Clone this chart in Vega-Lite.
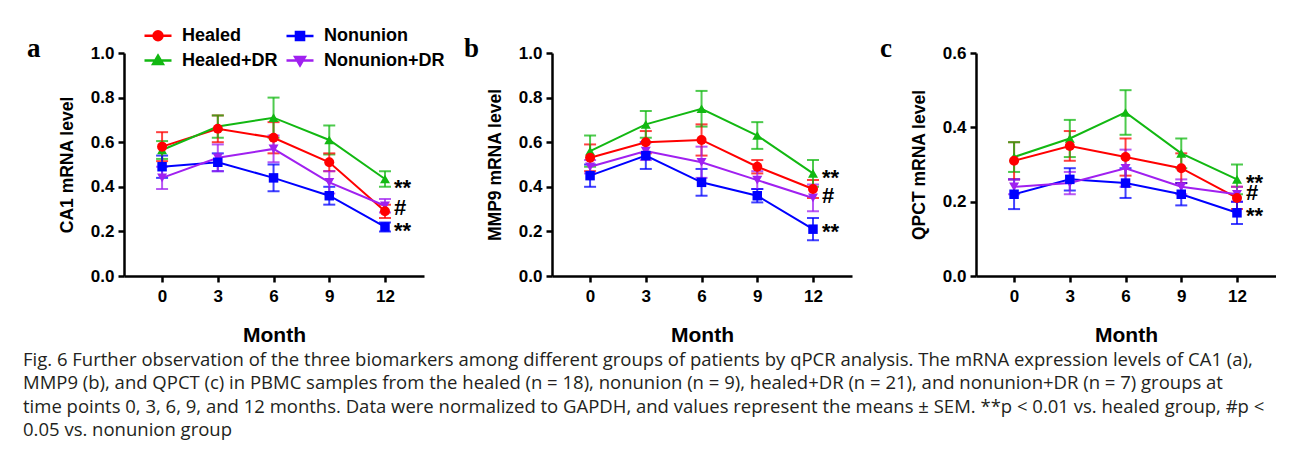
{
  "$schema": "https://vega.github.io/schema/vega-lite/v6.json",
  "background": "white",
  "padding": {"left": 23, "top": 20, "right": 0, "bottom": 0},
  "datasets": {
    "expr": [
      {"gene": "CA1", "group": "Healed", "month": 0, "mean": 0.58, "sem": 0.065},
      {"gene": "CA1", "group": "Healed", "month": 3, "mean": 0.66, "sem": 0.06},
      {"gene": "CA1", "group": "Healed", "month": 6, "mean": 0.62, "sem": 0.07},
      {"gene": "CA1", "group": "Healed", "month": 9, "mean": 0.51, "sem": 0.04},
      {"gene": "CA1", "group": "Healed", "month": 12, "mean": 0.29, "sem": 0.03},
      {"gene": "CA1", "group": "Healed+DR", "month": 0, "mean": 0.565, "sem": 0.04},
      {"gene": "CA1", "group": "Healed+DR", "month": 3, "mean": 0.67, "sem": 0.05},
      {"gene": "CA1", "group": "Healed+DR", "month": 6, "mean": 0.71, "sem": 0.09},
      {"gene": "CA1", "group": "Healed+DR", "month": 9, "mean": 0.61, "sem": 0.065},
      {"gene": "CA1", "group": "Healed+DR", "month": 12, "mean": 0.435, "sem": 0.035},
      {"gene": "CA1", "group": "Nonunion", "month": 0, "mean": 0.49, "sem": 0.05},
      {"gene": "CA1", "group": "Nonunion", "month": 3, "mean": 0.51, "sem": 0.04},
      {"gene": "CA1", "group": "Nonunion", "month": 6, "mean": 0.44, "sem": 0.06},
      {"gene": "CA1", "group": "Nonunion", "month": 9, "mean": 0.36, "sem": 0.04},
      {"gene": "CA1", "group": "Nonunion", "month": 12, "mean": 0.22, "sem": 0.02},
      {"gene": "CA1", "group": "Nonunion+DR", "month": 0, "mean": 0.44, "sem": 0.05},
      {"gene": "CA1", "group": "Nonunion+DR", "month": 3, "mean": 0.53, "sem": 0.06},
      {"gene": "CA1", "group": "Nonunion+DR", "month": 6, "mean": 0.57, "sem": 0.06},
      {"gene": "CA1", "group": "Nonunion+DR", "month": 9, "mean": 0.42, "sem": 0.05},
      {"gene": "CA1", "group": "Nonunion+DR", "month": 12, "mean": 0.315, "sem": 0.03},
      {"gene": "MMP9", "group": "Healed", "month": 0, "mean": 0.53, "sem": 0.06},
      {"gene": "MMP9", "group": "Healed", "month": 3, "mean": 0.60, "sem": 0.05},
      {"gene": "MMP9", "group": "Healed", "month": 6, "mean": 0.61, "sem": 0.07},
      {"gene": "MMP9", "group": "Healed", "month": 9, "mean": 0.49, "sem": 0.03},
      {"gene": "MMP9", "group": "Healed", "month": 12, "mean": 0.39, "sem": 0.04},
      {"gene": "MMP9", "group": "Healed+DR", "month": 0, "mean": 0.56, "sem": 0.07},
      {"gene": "MMP9", "group": "Healed+DR", "month": 3, "mean": 0.68, "sem": 0.06},
      {"gene": "MMP9", "group": "Healed+DR", "month": 6, "mean": 0.75, "sem": 0.08},
      {"gene": "MMP9", "group": "Healed+DR", "month": 9, "mean": 0.63, "sem": 0.06},
      {"gene": "MMP9", "group": "Healed+DR", "month": 12, "mean": 0.46, "sem": 0.06},
      {"gene": "MMP9", "group": "Nonunion", "month": 0, "mean": 0.45, "sem": 0.05},
      {"gene": "MMP9", "group": "Nonunion", "month": 3, "mean": 0.54, "sem": 0.06},
      {"gene": "MMP9", "group": "Nonunion", "month": 6, "mean": 0.42, "sem": 0.06},
      {"gene": "MMP9", "group": "Nonunion", "month": 9, "mean": 0.36, "sem": 0.03},
      {"gene": "MMP9", "group": "Nonunion", "month": 12, "mean": 0.21, "sem": 0.05},
      {"gene": "MMP9", "group": "Nonunion+DR", "month": 0, "mean": 0.49, "sem": 0.03},
      {"gene": "MMP9", "group": "Nonunion+DR", "month": 3, "mean": 0.56, "sem": 0.04},
      {"gene": "MMP9", "group": "Nonunion+DR", "month": 6, "mean": 0.51, "sem": 0.07},
      {"gene": "MMP9", "group": "Nonunion+DR", "month": 9, "mean": 0.43, "sem": 0.04},
      {"gene": "MMP9", "group": "Nonunion+DR", "month": 12, "mean": 0.35, "sem": 0.06},
      {"gene": "QPCT", "group": "Healed", "month": 0, "mean": 0.31, "sem": 0.05},
      {"gene": "QPCT", "group": "Healed", "month": 3, "mean": 0.35, "sem": 0.04},
      {"gene": "QPCT", "group": "Healed", "month": 6, "mean": 0.32, "sem": 0.05},
      {"gene": "QPCT", "group": "Healed", "month": 9, "mean": 0.29, "sem": 0.04},
      {"gene": "QPCT", "group": "Healed", "month": 12, "mean": 0.21, "sem": 0.03},
      {"gene": "QPCT", "group": "Healed+DR", "month": 0, "mean": 0.32, "sem": 0.04},
      {"gene": "QPCT", "group": "Healed+DR", "month": 3, "mean": 0.37, "sem": 0.05},
      {"gene": "QPCT", "group": "Healed+DR", "month": 6, "mean": 0.44, "sem": 0.06},
      {"gene": "QPCT", "group": "Healed+DR", "month": 9, "mean": 0.33, "sem": 0.04},
      {"gene": "QPCT", "group": "Healed+DR", "month": 12, "mean": 0.26, "sem": 0.04},
      {"gene": "QPCT", "group": "Nonunion", "month": 0, "mean": 0.22, "sem": 0.04},
      {"gene": "QPCT", "group": "Nonunion", "month": 3, "mean": 0.26, "sem": 0.03},
      {"gene": "QPCT", "group": "Nonunion", "month": 6, "mean": 0.25, "sem": 0.04},
      {"gene": "QPCT", "group": "Nonunion", "month": 9, "mean": 0.22, "sem": 0.03},
      {"gene": "QPCT", "group": "Nonunion", "month": 12, "mean": 0.17, "sem": 0.03},
      {"gene": "QPCT", "group": "Nonunion+DR", "month": 0, "mean": 0.24, "sem": 0.02},
      {"gene": "QPCT", "group": "Nonunion+DR", "month": 3, "mean": 0.25, "sem": 0.03},
      {"gene": "QPCT", "group": "Nonunion+DR", "month": 6, "mean": 0.29, "sem": 0.05},
      {"gene": "QPCT", "group": "Nonunion+DR", "month": 9, "mean": 0.24, "sem": 0.02},
      {"gene": "QPCT", "group": "Nonunion+DR", "month": 12, "mean": 0.22, "sem": 0.02}
    ],
    "annot": [
      {"gene": "CA1", "month": 12, "mean": 0.41, "label": "**"},
      {"gene": "CA1", "month": 12, "mean": 0.307, "label": "#"},
      {"gene": "CA1", "month": 12, "mean": 0.215, "label": "**"},
      {"gene": "MMP9", "month": 12, "mean": 0.455, "label": "**"},
      {"gene": "MMP9", "month": 12, "mean": 0.357, "label": "#"},
      {"gene": "MMP9", "month": 12, "mean": 0.212, "label": "**"},
      {"gene": "QPCT", "month": 12, "mean": 0.259, "label": "**"},
      {"gene": "QPCT", "month": 12, "mean": 0.223, "label": "#"},
      {"gene": "QPCT", "month": 12, "mean": 0.169, "label": "**"}
    ]
  },
  "spacing": 40,
  "hconcat": [
    {
      "width": 300, "height": 223,
      "title": {"text": "a", "anchor": "start", "frame": "group", "dx": -97, "dy": 40, "offset": 0, "baseline": "alphabetic", "font": "Liberation Serif", "fontSize": 27, "fontWeight": "bold", "color": "black"},
      "data": {"name": "expr"},
      "transform": [{"filter": "datum.gene == 'CA1'"}],
      "encoding": {
        "x": {"field": "month", "type": "quantitative", "scale": {"domain": [-2.05, 14.1], "nice": false, "zero": false}, "axis": {"values": [0, 3, 6, 9, 12], "title": "Month"}},
        "y": {"field": "mean", "type": "quantitative", "scale": {"domain": [0, 1], "nice": false}, "axis": {"values": [0, 0.2, 0.4, 0.6, 0.8, 1.0], "format": ".1f", "title": "CA1 mRNA level"}}
      },
      "layer": [
        {"mark": {"type": "point", "filled": true, "opacity": 0},
          "encoding": {
            "color": {"field": "group", "type": "nominal",
              "scale": {"domain": ["Healed", "Healed+DR", "Nonunion", "Nonunion+DR"], "range": ["#FF0000", "#12B812", "#0000FF", "#A020F0"]},
              "legend": {"orient": "none", "legendX": 19, "legendY": -32.5, "columns": 2, "title": null, "symbolOpacity": 1}},
            "shape": {"field": "group", "type": "nominal",
              "scale": {"domain": ["Healed", "Healed+DR", "Nonunion", "Nonunion+DR"], "range": [
                "M-1,0H1M-0.33,0A0.33,0.33,0,1,0,0.33,0A0.33,0.33,0,1,0,-0.33,0Z",
                "M-1,0H1M0,-0.36L0.36,0.26H-0.36Z",
                "M-1,0H1M-0.3,-0.3H0.3V0.3H-0.3Z",
                "M-1,0H1M0,0.36L0.36,-0.26H-0.36Z"]},
              "legend": {"orient": "none", "legendX": 19, "legendY": -32.5, "columns": 2, "title": null, "symbolOpacity": 1}}
          }
        },
        {"mark": {"type": "errorbar", "ticks": true, "size": 12, "thickness": 2, "opacity": 0.75}, "encoding": {"yError": {"field": "sem"}, "color": {"field": "group", "type": "nominal", "legend": null}}},
        {"mark": {"type": "line", "strokeWidth": 2}, "encoding": {"color": {"field": "group", "type": "nominal", "legend": null}}},
        {"transform": [{"filter": "datum.group == 'Nonunion+DR'"}], "mark": {"type": "point", "shape": "triangle-down", "filled": true, "size": 100, "opacity": 1}, "encoding": {"color": {"field": "group", "type": "nominal", "legend": null}}},
        {"transform": [{"filter": "datum.group == 'Nonunion'"}], "mark": {"type": "point", "shape": "square", "filled": true, "size": 90, "opacity": 1}, "encoding": {"color": {"field": "group", "type": "nominal", "legend": null}}},
        {"transform": [{"filter": "datum.group == 'Healed+DR'"}], "mark": {"type": "point", "shape": "triangle-up", "filled": true, "size": 100, "opacity": 1}, "encoding": {"color": {"field": "group", "type": "nominal", "legend": null}}},
        {"transform": [{"filter": "datum.group == 'Healed'"}], "mark": {"type": "point", "shape": "circle", "filled": true, "size": 100, "opacity": 1}, "encoding": {"color": {"field": "group", "type": "nominal", "legend": null}}},
        {"data": {"name": "annot"}, "transform": [{"filter": "datum.gene == 'CA1' && datum.label == '#'"}], "mark": {"type": "text", "align": "left", "dx": 9, "baseline": "middle", "font": "Liberation Sans", "fontWeight": "bold", "fontSize": 22, "color": "black"}, "encoding": {"text": {"field": "label"}}},
        {"data": {"name": "annot"}, "transform": [{"filter": "datum.gene == 'CA1' && datum.label == '**'"}], "mark": {"type": "text", "align": "left", "dx": 9, "dy": 3, "baseline": "middle", "font": "Liberation Sans", "fontWeight": "bold", "fontSize": 22, "color": "black"}, "encoding": {"text": {"field": "label"}}}
      ]
    },
    {
      "spacing": 28,
      "hconcat": [
        {
          "width": 300, "height": 223,
          "title": {"text": "b", "anchor": "start", "frame": "group", "dx": -88, "dy": 40, "offset": 0, "baseline": "alphabetic", "font": "Liberation Serif", "fontSize": 27, "fontWeight": "bold", "color": "black"},
          "data": {"name": "expr"},
          "transform": [{"filter": "datum.gene == 'MMP9'"}],
          "encoding": {
            "x": {"field": "month", "type": "quantitative", "scale": {"domain": [-2.05, 14.1], "nice": false, "zero": false}, "axis": {"values": [0, 3, 6, 9, 12], "title": "Month"}},
            "y": {"field": "mean", "type": "quantitative", "scale": {"domain": [0, 1], "nice": false}, "axis": {"values": [0, 0.2, 0.4, 0.6, 0.8, 1.0], "format": ".1f", "title": "MMP9 mRNA level"}},
            "color": {"field": "group", "type": "nominal", "legend": null}
          },
          "layer": [
            {"mark": {"type": "errorbar", "ticks": true, "size": 12, "thickness": 2, "opacity": 0.75}, "encoding": {"yError": {"field": "sem"}}},
            {"mark": {"type": "line", "strokeWidth": 2}},
            {"transform": [{"filter": "datum.group == 'Nonunion+DR'"}], "mark": {"type": "point", "shape": "triangle-down", "filled": true, "size": 100, "opacity": 1}},
            {"transform": [{"filter": "datum.group == 'Nonunion'"}], "mark": {"type": "point", "shape": "square", "filled": true, "size": 90, "opacity": 1}},
            {"transform": [{"filter": "datum.group == 'Healed+DR'"}], "mark": {"type": "point", "shape": "triangle-up", "filled": true, "size": 100, "opacity": 1}},
            {"transform": [{"filter": "datum.group == 'Healed'"}], "mark": {"type": "point", "shape": "circle", "filled": true, "size": 100, "opacity": 1}},
            {"data": {"name": "annot"}, "transform": [{"filter": "datum.gene == 'MMP9' && datum.label == '#'"}], "mark": {"type": "text", "align": "left", "dx": 9, "baseline": "middle", "font": "Liberation Sans", "fontWeight": "bold", "fontSize": 22, "color": "black"}, "encoding": {"text": {"field": "label"}, "color": {"value": "black"}}},
            {"data": {"name": "annot"}, "transform": [{"filter": "datum.gene == 'MMP9' && datum.label == '**'"}], "mark": {"type": "text", "align": "left", "dx": 9, "dy": 3, "baseline": "middle", "font": "Liberation Sans", "fontWeight": "bold", "fontSize": 22, "color": "black"}, "encoding": {"text": {"field": "label"}, "color": {"value": "black"}}}
          ]
        },
        {
          "width": 300, "height": 223,
          "title": {"text": "c", "anchor": "start", "frame": "group", "dx": -96, "dy": 40, "offset": 0, "baseline": "alphabetic", "font": "Liberation Serif", "fontSize": 27, "fontWeight": "bold", "color": "black"},
          "data": {"name": "expr"},
          "transform": [{"filter": "datum.gene == 'QPCT'"}],
          "encoding": {
            "x": {"field": "month", "type": "quantitative", "scale": {"domain": [-2.05, 14.1], "nice": false, "zero": false}, "axis": {"values": [0, 3, 6, 9, 12], "title": "Month"}},
            "y": {"field": "mean", "type": "quantitative", "scale": {"domain": [0, 0.6], "nice": false}, "axis": {"values": [0, 0.2, 0.4, 0.6], "format": ".1f", "title": "QPCT mRNA level"}},
            "color": {"field": "group", "type": "nominal", "legend": null}
          },
          "layer": [
            {"mark": {"type": "errorbar", "ticks": true, "size": 12, "thickness": 2, "opacity": 0.75}, "encoding": {"yError": {"field": "sem"}}},
            {"mark": {"type": "line", "strokeWidth": 2}},
            {"transform": [{"filter": "datum.group == 'Nonunion+DR'"}], "mark": {"type": "point", "shape": "triangle-down", "filled": true, "size": 100, "opacity": 1}},
            {"transform": [{"filter": "datum.group == 'Nonunion'"}], "mark": {"type": "point", "shape": "square", "filled": true, "size": 90, "opacity": 1}},
            {"transform": [{"filter": "datum.group == 'Healed+DR'"}], "mark": {"type": "point", "shape": "triangle-up", "filled": true, "size": 100, "opacity": 1}},
            {"transform": [{"filter": "datum.group == 'Healed'"}], "mark": {"type": "point", "shape": "circle", "filled": true, "size": 100, "opacity": 1}},
            {"data": {"name": "annot"}, "transform": [{"filter": "datum.gene == 'QPCT' && datum.label == '#'"}], "mark": {"type": "text", "align": "left", "dx": 9, "baseline": "middle", "font": "Liberation Sans", "fontWeight": "bold", "fontSize": 22, "color": "black"}, "encoding": {"text": {"field": "label"}, "color": {"value": "black"}}},
            {"data": {"name": "annot"}, "transform": [{"filter": "datum.gene == 'QPCT' && datum.label == '**'"}], "mark": {"type": "text", "align": "left", "dx": 9, "dy": 3, "baseline": "middle", "font": "Liberation Sans", "fontWeight": "bold", "fontSize": 22, "color": "black"}, "encoding": {"text": {"field": "label"}, "color": {"value": "black"}}}
          ]
        }
      ]
    }
  ],
  "title": {
    "text": [
      "Fig. 6 Further observation of the three biomarkers among different groups of patients by qPCR analysis. The mRNA expression levels of CA1 (a),",
      "MMP9 (b), and QPCT (c) in PBMC samples from the healed (n = 18), nonunion (n = 9), healed+DR (n = 21), and nonunion+DR (n = 7) groups at",
      "time points 0, 3, 6, 9, and 12 months. Data were normalized to GAPDH, and values represent the means ± SEM. **p < 0.01 vs. healed group, #p <",
      "0.05 vs. nonunion group"
    ],
    "orient": "bottom", "anchor": "start", "frame": "bounds", "dx": -4, "offset": 6,
    "font": "Open Sans", "fontSize": 18.5, "fontWeight": "normal", "lineHeight": 23.3, "color": "#231f20"
  },
  "config": {
    "view": {"stroke": null},
    "axis": {
      "grid": false, "domainColor": "black", "domainWidth": 2.5, "tickColor": "black", "tickWidth": 2.5, "tickSize": 6,
      "labelFont": "Liberation Sans", "labelFontWeight": "bold", "labelFontSize": 17, "labelColor": "black",
      "titleFont": "Liberation Sans", "titleFontWeight": "bold", "titleColor": "black"
    },
    "axisX": {"labelAngle": 0, "labelPadding": 6, "titleFontSize": 21, "titlePadding": 20},
    "axisY": {"labelPadding": 4, "titleFontSize": 17.5, "titlePadding": 14},
    "legend": {
      "padding": 0, "symbolSize": 729, "symbolStrokeWidth": 2.5, "labelOffset": 9, "columnPadding": 3, "rowPadding": 0,
      "labelFont": "Liberation Sans", "labelFontWeight": "bold", "labelFontSize": 18, "labelColor": "black",
      "symbolOpacity": 1
    }
  }
}
